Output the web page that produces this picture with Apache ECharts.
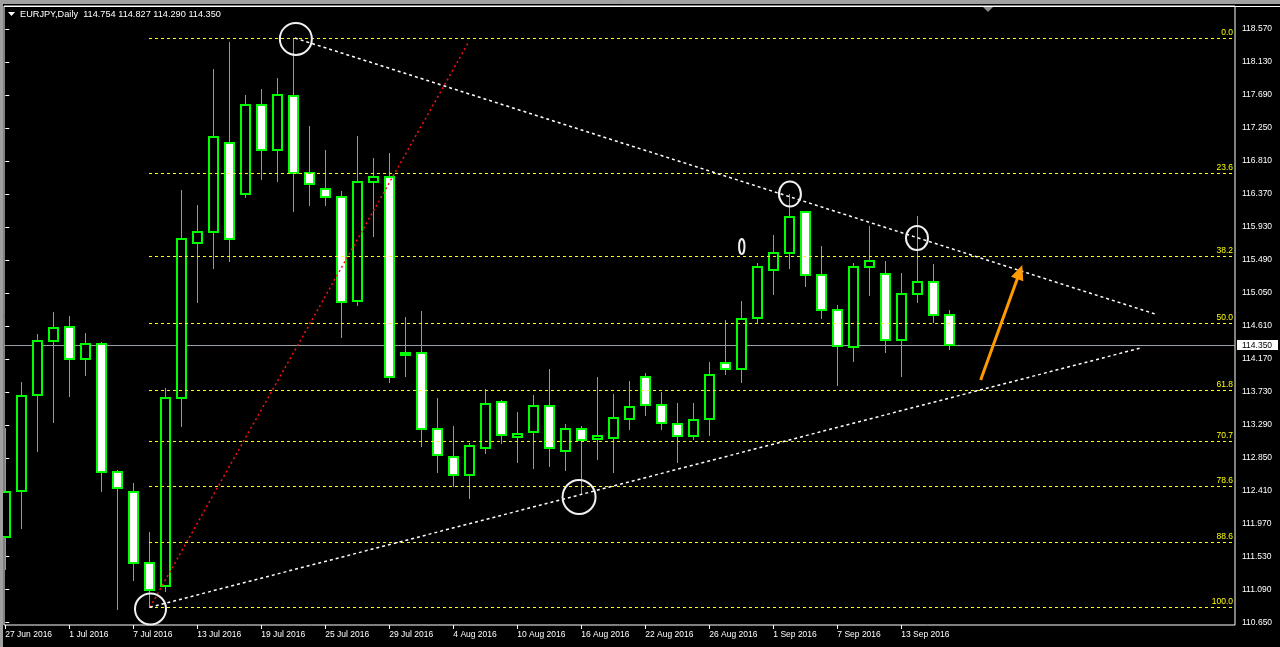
<!DOCTYPE html>
<html><head><meta charset="utf-8">
<script src="https://cdn.jsdelivr.net/npm/echarts@6/dist/echarts.min.js"></script>
<style>html,body{margin:0;padding:0;background:#000;overflow:hidden}#c{width:1280px;height:647px}</style>
</head><body><div id="c"></div>
<script>
const dates = ['27 Jun 2016','28 Jun 2016','29 Jun 2016','30 Jun 2016','1 Jul 2016','4 Jul 2016','5 Jul 2016','6 Jul 2016','7 Jul 2016','8 Jul 2016',
'11 Jul 2016','12 Jul 2016','13 Jul 2016','14 Jul 2016','15 Jul 2016','18 Jul 2016','19 Jul 2016','20 Jul 2016','21 Jul 2016','22 Jul 2016',
'25 Jul 2016','26 Jul 2016','27 Jul 2016','28 Jul 2016','29 Jul 2016','1 Aug 2016','2 Aug 2016','3 Aug 2016','4 Aug 2016','5 Aug 2016',
'8 Aug 2016','9 Aug 2016','10 Aug 2016','11 Aug 2016','12 Aug 2016','15 Aug 2016','16 Aug 2016','17 Aug 2016','18 Aug 2016','19 Aug 2016',
'22 Aug 2016','23 Aug 2016','24 Aug 2016','25 Aug 2016','26 Aug 2016','29 Aug 2016','30 Aug 2016','31 Aug 2016','1 Sep 2016','2 Sep 2016',
'5 Sep 2016','6 Sep 2016','7 Sep 2016','8 Sep 2016','9 Sep 2016','12 Sep 2016','13 Sep 2016','14 Sep 2016','15 Sep 2016','16 Sep 2016'];
const opens = [111.789,112.403,113.684,114.412,114.591,114.164,114.364,112.656,112.389,111.442,
111.140,113.643,115.711,115.858,117.045,116.365,117.552,116.952,117.672,116.645,
116.432,116.325,114.938,116.525,116.592,114.217,114.244,113.230,112.856,112.616,
112.976,113.590,113.123,113.190,113.537,112.936,113.230,113.096,113.110,113.363,
113.924,113.550,113.297,113.137,113.363,114.118,114.030,114.711,115.351,115.578,
116.125,115.284,114.817,114.324,115.391,115.298,114.417,115.031,115.191,114.754];
const highs = [113.243,113.861,114.501,114.795,114.741,114.511,114.395,112.687,112.514,111.856,
113.777,116.422,116.222,118.032,118.397,117.690,117.766,117.916,118.450,117.276,
116.956,116.409,117.143,116.849,116.916,114.728,114.808,113.648,113.274,113.043,
113.764,113.617,113.457,113.684,114.030,113.297,113.270,113.924,113.697,113.870,
113.977,113.723,113.577,113.577,114.124,114.684,114.937,115.444,115.818,116.365,
116.138,115.671,114.884,115.444,115.938,115.471,115.311,116.071,115.431,114.827];
const lows = [111.353,111.904,112.931,113.318,113.665,113.945,112.389,110.820,111.210,110.855,
111.063,113.265,114.911,115.364,115.466,116.312,116.556,116.533,116.133,116.213,
116.213,114.444,114.879,115.799,113.852,113.924,112.998,112.651,112.464,112.300,
112.896,113.030,112.776,112.696,112.723,112.670,112.354,112.816,112.643,113.217,
113.403,113.217,112.784,113.083,113.137,113.950,113.844,114.631,115.018,115.364,
115.124,114.697,113.804,114.124,115.004,114.244,113.924,114.911,114.644,114.290];
const closes = [112.389,113.670,114.404,114.577,114.164,114.364,112.656,112.443,111.442,111.086,
113.643,115.765,115.858,117.125,115.765,117.552,116.952,117.686,116.645,116.498,
116.325,114.924,116.525,116.592,113.924,114.244,113.230,112.883,112.616,113.003,
113.563,113.150,113.163,113.537,112.976,113.230,113.083,113.137,113.377,113.523,
113.550,113.310,113.137,113.350,113.950,114.030,114.697,115.391,115.578,116.058,
115.284,114.817,114.337,115.391,115.471,114.417,115.031,115.191,114.751,114.350];
const yTicks = [110.650,111.090,111.530,111.970,112.410,112.850,113.290,113.730,114.170,114.610,
115.050,115.490,115.930,116.370,116.810,117.250,117.690,118.130,118.570];
const dateTickIdx = [0,4,8,12,16,20,24,28,32,36,40,44,48,52,56];
const fibLevels = [0.0,23.6,38.2,50.0,61.8,70.7,78.6,88.6,100.0];
const fibHigh = 118.446, fibLow = 110.855, fibStartIdx = 9;
const redLine = [[9.04,110.855],[28.96,118.397]];
const upperLine = [[18.1,118.45],[71.86,114.768]];
const lowerLine = [[9.04,110.855],[70.92,114.312]];
const circleCenters = [[18.16,118.437],[9.075,110.833],[35.86,112.327],[49.04,116.369],[56.98,115.782],[46.03,115.668]];
const arrowPts = [[60.96,113.888],[63.56,115.422]];
const lastPrice = 114.350;
const title = 'EURJPY,Daily  114.754 114.827 114.290 114.350';

const FONT = 'Liberation Sans, Arial, sans-serif';
const candleData = opens.map((o,i)=>[i,o,closes[i],lows[i],highs[i]]);
const circleRadii = [[16,16],[15.5,15.5],[16.5,17],[11,12.5],[11,12],[2.7,7.5]];

const chart = echarts.init(document.getElementById('c'), null, {renderer:'canvas'});
chart.setOption({
  backgroundColor:'#000',
  animation:false,
  grid:{left:4, top:6, width:1231, height:619, show:true, borderColor:'#ffffff', borderWidth:1, backgroundColor:'transparent'},
  xAxis:{type:'value', min:-0.081, max:76.856,
    axisLine:{show:false}, splitLine:{show:false},
    axisTick:{show:true, customValues:dateTickIdx, length:4, lineStyle:{color:'#fff'}},
    axisLabel:{customValues:dateTickIdx, formatter:v=>dates[Math.round(v)], align:'left', color:'#fff', fontSize:8.5, fontFamily:FONT, margin:5}
  },
  yAxis:{type:'value', position:'right', min:110.619, max:118.877, scale:true,
    axisLine:{show:false}, splitLine:{show:false},
    axisTick:{show:true, customValues:yTicks, length:4, lineStyle:{color:'#fff'}},
    axisLabel:{customValues:yTicks, formatter:v=>v.toFixed(3), color:'#fff', fontSize:8.5, fontFamily:FONT, margin:7}
  },
  graphic:[
    {type:'rect', shape:{x:0,y:0,width:1280,height:4}, style:{fill:'#a0a0a0'}, z:100},
    {type:'rect', shape:{x:0,y:0,width:3,height:647}, style:{fill:'#a0a0a0'}, z:100},
    {type:'line', shape:{x1:4,y1:6.5,x2:1280,y2:6.5}, style:{stroke:'#fff',lineWidth:1}, z:100},
    {type:'polygon', shape:{points:[[8,12],[15,12],[11.5,16]]}, style:{fill:'#fff'}, z:100},
    {type:'text', x:20, y:14.5, style:{text:title, fill:'#fff', font:'9.2px '+FONT, verticalAlign:'middle', align:'left'}, z:100},
    {type:'polygon', shape:{points:[[983,7],[993,7],[988,12]]}, style:{fill:'#8a8a8a'}, z:100}
  ],
  series:[
    { // current price line + label
      type:'custom', z:2, clip:false, data:[[0,lastPrice]],
      renderItem:(params, api)=>{
        const cs = params.coordSys;
        const y = Math.round(api.coord([0, api.value(1)])[1]);
        return {type:'group', children:[
          {type:'rect', shape:{x:cs.x, y:y, width:cs.width, height:1}, style:{fill:'#9aa0a8'}},
          {type:'rect', shape:{x:cs.x+cs.width+2, y:y-5, width:41, height:10}, style:{fill:'#fff'}},
          {type:'text', style:{text:api.value(1).toFixed(3), x:cs.x+cs.width+7, y:y+0.5, fill:'#000', font:'8.5px '+FONT, verticalAlign:'middle', align:'left'}}
        ]};
      }
    },
    { // candles
      type:'custom', z:3, data:candleData,
      renderItem:(params, api)=>{
        const i = api.value(0), o = api.value(1), c = api.value(2), l = api.value(3), h = api.value(4);
        const pO = api.coord([i,o]), pC = api.coord([i,c]), pL = api.coord([i,l]), pH = api.coord([i,h]);
        const xi = Math.floor(pO[0]);
        const top = Math.round(Math.min(pO[1], pC[1])), bot = Math.round(Math.max(pO[1], pC[1]));
        const yh = Math.round(pH[1]), yl = Math.round(pL[1]);
        const bull = c >= o;
        return {type:'group', children:[
          {type:'rect', shape:{x:xi, y:yh, width:1, height:Math.max(yl-yh,1)}, style:{fill:'#00ff00'}},
          {type:'rect', shape:{x:xi-4, y:top, width:9, height:Math.max(bot-top,1)}, style:{fill:bull?'#000':'#fff', stroke:'#00ff00', lineWidth:2}}
        ]};
      }
    },
    { // fibonacci levels
      type:'custom', z:4, data:fibLevels.map(f=>[fibStartIdx, fibHigh-(fibHigh-fibLow)*f/100, f]),
      renderItem:(params, api)=>{
        const cs = params.coordSys;
        const p = api.coord([api.value(0), api.value(1)]);
        const y = Math.round(p[1]) + 0.5;
        const xr = cs.x + cs.width - 2;
        return {type:'group', children:[
          {type:'line', shape:{x1:Math.round(p[0]), y1:y, x2:xr, y2:y}, style:{stroke:'#ffff00', lineWidth:1, lineDash:[3,3]}},
          {type:'text', style:{text:api.value(2).toFixed(1), x:xr, y:y-5.5, fill:'#ffff00', font:'8.5px '+FONT, align:'right', verticalAlign:'middle'}}
        ]};
      }
    },
    { // trendlines
      type:'custom', z:5, data:[[0]],
      renderItem:(params, api)=>{
        const seg = (pts, color, dash)=>{
          const a = api.coord(pts[0]), b = api.coord(pts[1]);
          return {type:'line', shape:{x1:a[0], y1:a[1], x2:b[0], y2:b[1]}, style:{stroke:color, lineWidth:1.5, lineDash:dash}};
        };
        return {type:'group', children:[
          seg(redLine, '#ff1010', [2,3]),
          seg(upperLine, '#ffffff', [3,3]),
          seg(lowerLine, '#ffffff', [3,3])
        ]};
      }
    },
    { // circles
      type:'custom', z:6, data:circleCenters.map((c,k)=>[c[0],c[1],k]),
      renderItem:(params, api)=>{
        const p = api.coord([api.value(0), api.value(1)]);
        const r = circleRadii[api.value(2)];
        return {type:'ellipse', shape:{cx:p[0], cy:p[1], rx:r[0], ry:r[1]}, style:{fill:null, stroke:'#f0f0f0', lineWidth:2}};
      }
    },
    { // arrow
      type:'custom', z:7, data:[[0]],
      renderItem:(params, api)=>{
        const a = api.coord(arrowPts[0]), b = api.coord(arrowPts[1]);
        const dx = b[0]-a[0], dy = b[1]-a[1], len = Math.sqrt(dx*dx+dy*dy);
        const ux = dx/len, uy = dy/len, nx = -uy, ny = ux;
        const hl = 15, hw = 6.5;
        const bx = b[0]-ux*hl, by = b[1]-uy*hl;
        return {type:'group', children:[
          {type:'line', shape:{x1:a[0], y1:a[1], x2:bx+ux*2, y2:by+uy*2}, style:{stroke:'#ff9a00', lineWidth:3}},
          {type:'polygon', shape:{points:[[b[0],b[1]],[bx+nx*hw,by+ny*hw],[bx-nx*hw,by-ny*hw]]}, style:{fill:'#ff9a00'}}
        ]};
      }
    }
  ]
});
</script></body></html>
